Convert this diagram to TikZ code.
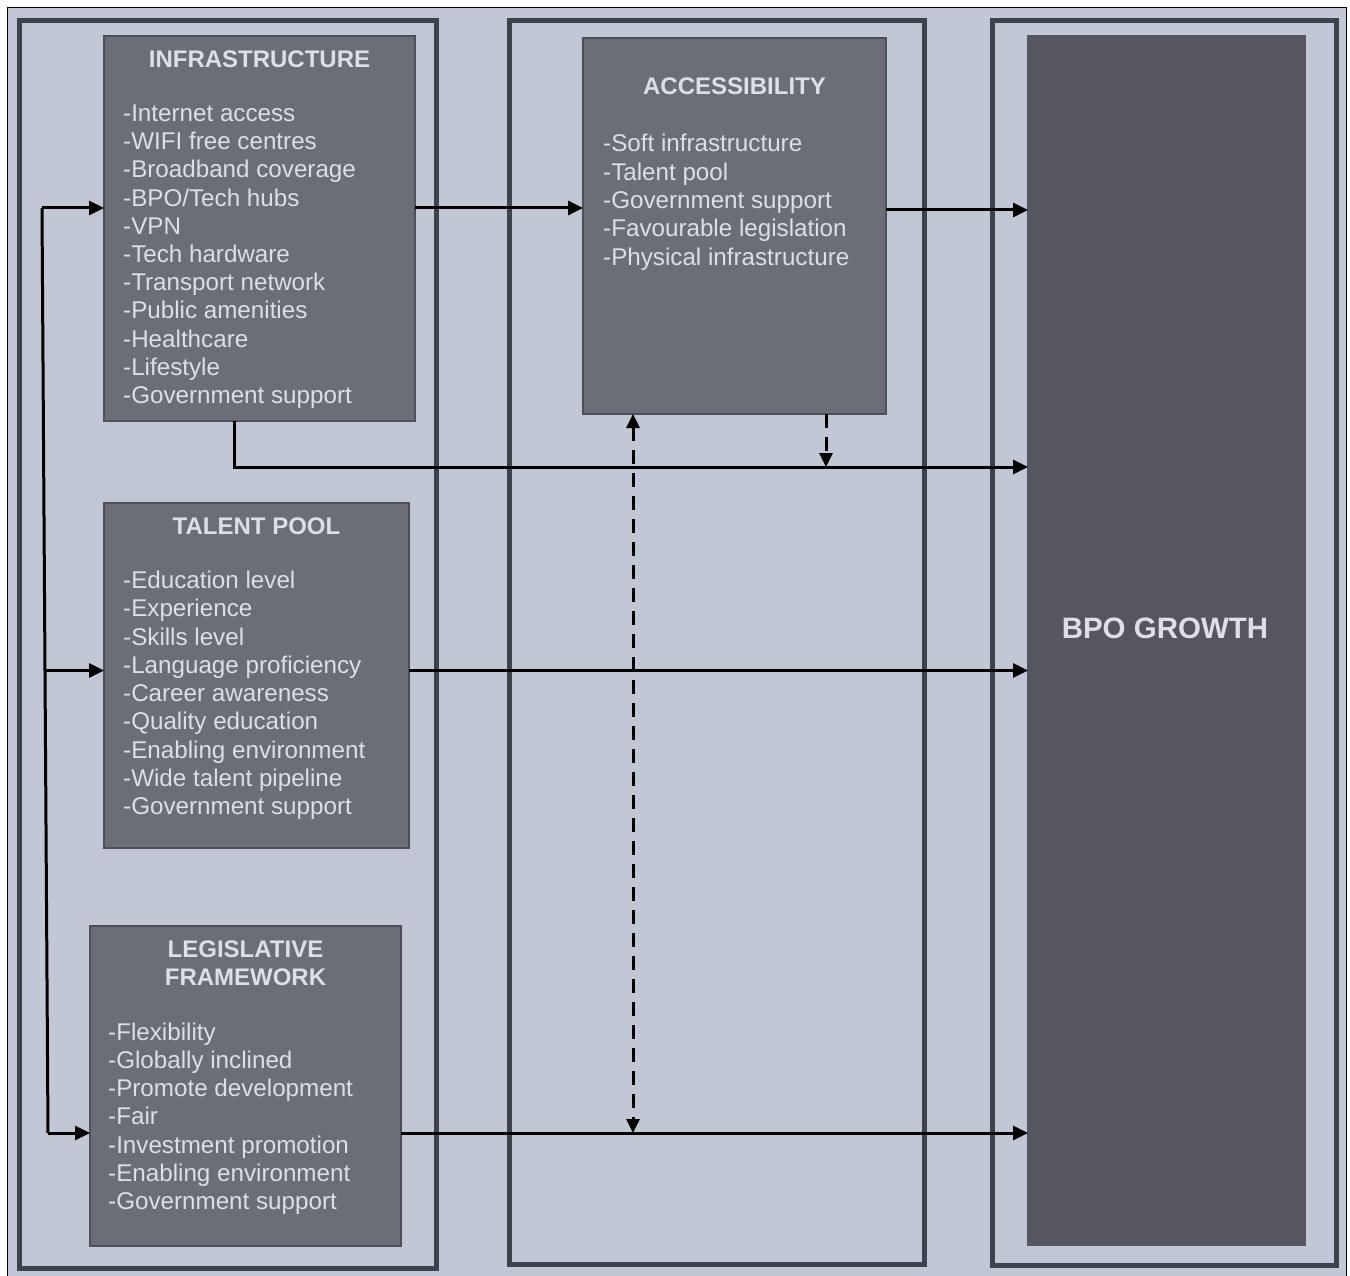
\documentclass[tikz,border=0pt]{standalone}
\usepackage{fontspec}
\setmainfont{Liberation Sans}
\usetikzlibrary{arrows.meta,calc}
\definecolor{bg}{HTML}{C1C7D5}
\definecolor{panel}{HTML}{3D434D}
\definecolor{boxfill}{HTML}{6B6E77}
\definecolor{boxline}{HTML}{4C5059}
\definecolor{bpofill}{HTML}{55565F}
\definecolor{txt}{HTML}{DCDFE6}

\begin{document}
\begin{tikzpicture}[x=1pt,y=-1pt,
  panelbox/.style={draw=panel,line width=5pt},
  factor/.style={draw=boxline,line width=1.5pt,fill=boxfill,inner sep=0pt,outer sep=0pt,anchor=north west},
  head/.style={text=txt,font=\fontsize{24}{28}\selectfont\bfseries,inner sep=0pt,anchor=base},
  item/.style={text=txt,font=\fontsize{24.2}{28}\selectfont,inner sep=0pt,anchor=base west},
  link/.style={line width=3pt,-{Triangle[length=15pt,width=14pt]}},
  dlink/.style={line width=3pt,dash pattern=on 14pt off 9pt,-{Triangle[length=14pt,width=13pt]}},
]
\useasboundingbox (0,0) rectangle (1350,1276);

% page background and outer frame
\fill[white] (0,0) rectangle (1350,1276);
\fill[bg] (8,8) rectangle (1346,1276);
\draw[black,line width=1.5pt] (7.5,1276) -- (7.5,7.5) -- (1346.5,7.5) -- (1346.5,1276);

% three column panels
\draw[panelbox] (19.5,20.5) rectangle (436.5,1268.5);
\draw[panelbox] (509.5,20.5) rectangle (924.5,1264.5);
\draw[panelbox] (992.5,20.5) rectangle (1336.5,1265);

% factor boxes
\node[factor,minimum width=311pt,minimum height=385pt] (infra) at (104,36) {};
\node[factor,minimum width=305pt,minimum height=345pt] (talent) at (104,503) {};
\node[factor,minimum width=311pt,minimum height=320pt] (legis) at (90,926) {};
\node[factor,minimum width=303pt,minimum height=376pt] (access) at (583,38) {};
\node[factor,fill=bpofill,draw=bpofill,minimum width=277pt,minimum height=1209pt] (bpo) at (1028,36) {};

% box texts
\node[head] (infra-h) at (259.5,68) {INFRASTRUCTURE};
\foreach \t [count=\i] in {-Internet access,-WIFI free centres,-Broadband coverage,-BPO/Tech hubs,-VPN,-Tech hardware,-Transport network,-Public amenities,-Healthcare,-Lifestyle,-Government support}
  \node[item] (infra-\i) at (123,{121.5+28.2*(\i-1)}) {\t};

\node[head] (talent-h) at (256.5,534.5) {TALENT POOL};
\foreach \t [count=\i] in {-Education level,-Experience,-Skills level,-Language proficiency,-Career awareness,-Quality education,-Enabling environment,-Wide talent pipeline,-Government support}
  \node[item] (talent-\i) at (123,{588.5+28.25*(\i-1)}) {\t};

\node[head] (legis-h1) at (245.5,957) {LEGISLATIVE};
\node[head] (legis-h2) at (245.5,985) {FRAMEWORK};
\foreach \t [count=\i] in {-Flexibility,-Globally inclined,-Promote development,-Fair,-Investment promotion,-Enabling environment,-Government support}
  \node[item] (legis-\i) at (108,{1040+28.3*(\i-1)}) {\t};

\node[head] (access-h) at (734.5,95) {ACCESSIBILITY};
\foreach \t [count=\i] in {-Soft infrastructure,-Talent pool,-Government support,-Favourable legislation,-Physical infrastructure}
  \node[item] (access-\i) at (603,{152+28.3*(\i-1)}) {\t};

\node[text=txt,font=\fontsize{29.5}{34}\selectfont\bfseries,inner sep=0pt] (bpo-t) at (1165,628.5) {BPO GROWTH};

% connectors
\coordinate (ltop) at (42,208);
\coordinate (lbot) at (48,1133);
\coordinate (lmid) at ($(ltop)!0.5!(lbot)$);
\draw[line width=3pt] (ltop) -- (lbot);
\draw[link] (ltop) -- (infra.west |- ltop);
\draw[link] (lmid) -- (talent.west |- lmid);
\draw[link] (lbot) -- (legis.west |- lbot);

\draw[link] (infra.east |- ltop) -- (access.west |- ltop);
\draw[link] (access.east |- 0,210) -- (bpo.west |- 0,210);

\coordinate (elbow) at (234,467);
\draw[link] (infra.south -| elbow) -- (elbow) -- (bpo.west |- elbow);
\coordinate (dtip) at (826,467);
\draw[dlink] (access.south -| dtip) -- (dtip);
\coordinate (dlo) at (633,1133);
\draw[dlink,{Triangle[length=14pt,width=13pt]}-{Triangle[length=14pt,width=13pt]}] (access.south -| dlo) -- (dlo);

\draw[link] (talent.east |- lmid) -- (bpo.west |- lmid);
\draw[link] (legis.east |- lbot) -- (bpo.west |- lbot);
\end{tikzpicture}
\end{document}
